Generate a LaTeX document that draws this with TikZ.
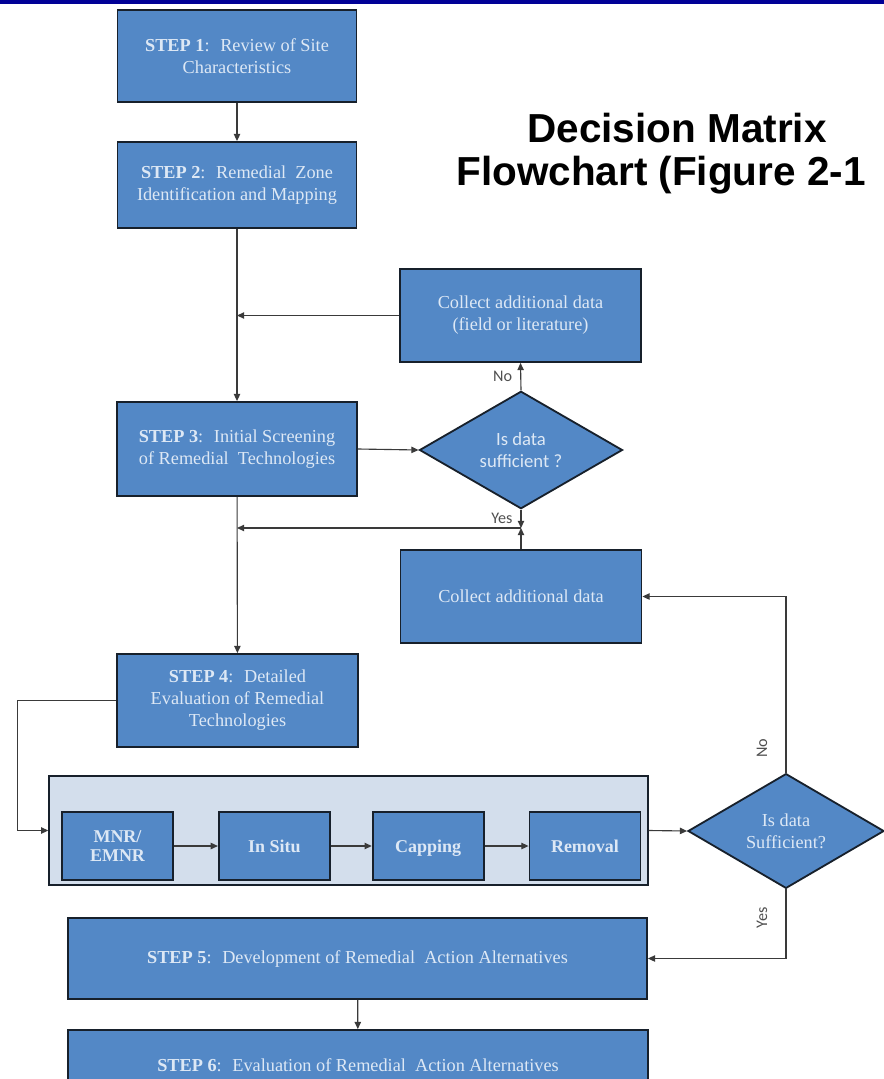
\documentclass[tikz,border=0pt]{standalone}
\usepackage{fontspec}
\setmainfont{Liberation Serif}
\newfontfamily\titlefont{Liberation Sans}
\newfontfamily\labelfont{Carlito}
\usetikzlibrary{positioning,arrows.meta,shapes.geometric}
\definecolor{boxblue}{HTML}{5388C6}
\definecolor{boxline}{HTML}{17202B}
\definecolor{boxtext}{HTML}{DDE8F5}
\definecolor{grpfill}{HTML}{D3DEEC}
\definecolor{topbar}{HTML}{000096}
\definecolor{linkgrey}{HTML}{3A3A3A}
\definecolor{labgrey}{HTML}{505050}

\begin{document}
\begin{tikzpicture}[x=0.25mm,y=-0.25mm,every node/.style={align=center,inner sep=0pt},
                    box/.style={draw=boxline,fill=boxblue,line width=1.3pt,text=boxtext,font=\fontsize{13}{15.6}\selectfont},
                    choice/.style={diamond,draw=boxline,fill=boxblue,line width=1.3pt,text=boxtext},
                    tech/.style={box,font=\fontsize{12.8}{14}\selectfont\bfseries,minimum width=27.75mm,minimum height=17mm},
                    group/.style={draw=boxline,fill=grpfill,line width=1pt},
                    link/.style={draw=linkgrey,line width=0.8pt,-{Triangle[length=1.8mm,width=1.6mm]}},
                    lab/.style={font=\labelfont\fontsize{11.5}{12}\selectfont,text=labgrey}]
  \useasboundingbox (0,0) rectangle (884,1079);
  \clip (0,0) rectangle (884,1079);
  \fill[white] (0,0) rectangle (884,1079);
  \fill[topbar] (0,0) rectangle (884,3.5);
  % title
  \node[font=\titlefont\fontsize{28.8}{30}\selectfont\bfseries,anchor=base] (title1) at (677,142) {Decision Matrix};
  \node[font=\titlefont\fontsize{28.8}{30}\selectfont\bfseries,anchor=base] (title2) at (661,185) {Flowchart (Figure 2-1};
  % main column
  \node[box,minimum width=59.75mm,minimum height=23mm] (s1) at (237,56) {\textbf{STEP 1}:~ Review of Site\\Characteristics};
  \node[box,minimum width=59.75mm,minimum height=21.5mm] (s2) at (237,185) {\textbf{STEP 2}:~ Remedial~ Zone\\Identification and Mapping};
  \node[box,minimum width=60mm,minimum height=23.5mm] (s3) at (237,449) {\textbf{STEP 3}:~ Initial Screening\\of Remedial~ Technologies};
  \node[box,minimum width=60.25mm,minimum height=23.25mm] (s4) at (237.5,700.5) {\textbf{STEP 4}:~ Detailed\\Evaluation of Remedial\\Technologies};
  % data checks
  \node[box,minimum width=60.25mm,minimum height=23.25mm] (cf) at (520.5,315.5) {Collect additional data\\(field or literature)};
  \node[choice,minimum width=50.75mm,minimum height=26.75mm,font=\labelfont\fontsize{13.3}{15.5}\selectfont] (d1) at (521,450) {Is data\\sufficient ?};
  \node[box,minimum width=60.25mm,minimum height=23.25mm] (cd) at (521,596.5) {Collect additional data};
  \coordinate (j2) at (521,528);
  % technologies
  \node[group,minimum width=149.75mm,minimum height=27.25mm] (grp) at (348.5,830.5) {};
  \node[tech] (mnr) at (117.5,846) {MNR/\\EMNR};
  \node[tech,right=11mm of mnr] (insitu) {In Situ};
  \node[tech,right=10.25mm of insitu,text depth=0pt] (cap) {Capping};
  \node[tech,right=11mm of cap] (rem) {Removal};
  \node[choice,minimum width=49mm,minimum height=27mm,font=\fontsize{13}{15.6}\selectfont] (d2) at (786,831) {Is data\\Sufficient?};
  % alternatives
  \node[box,minimum width=144.75mm,minimum height=20.25mm] (s5) at (357.5,958.5) {\textbf{STEP 5}:~ Development of Remedial~ Action Alternatives};
  \node[box,minimum width=145mm,minimum height=17.5mm] (s6) at (358,1065) {\textbf{STEP 6}:~ Evaluation of Remedial~ Action Alternatives};
  % connectors
  \draw[link] (s1) -- (s2);
  \draw[link] (s2) -- (s3);
  \draw[link] (cf.west) -- (cf.west -| s2.south);
  \draw[link] (s3.east) -- (d1.west);
  \draw[link] (d1.north) -- node[lab,left=2mm] {No} (cf.south);
  \draw[link] (d1.south) -- node[lab,left=2mm] {Yes} (j2);
  \draw[link] (cd.north) -- (j2);
  \draw[link] (j2) -- (j2 -| s3.south);
  \draw[link] (s3) -- (s4);
  \draw[link] (s4.west) -- ++(-99,0) |- (grp.west);
  \draw[link] (mnr) -- (insitu);
  \draw[link] (insitu) -- (cap);
  \draw[link] (cap) -- (rem);
  \draw[link] (grp.east) -- (d2.west);
  \draw[link] (d2.north) |- (cd.east);
  \draw[link] (d2.south) |- (s5.east);
  \node[lab,rotate=90] (nolab) at (762,748) {No};
  \node[lab,rotate=90] (yeslab) at (762,918) {Yes};
  \draw[link] (s5) -- (s6);
\end{tikzpicture}
\end{document}
